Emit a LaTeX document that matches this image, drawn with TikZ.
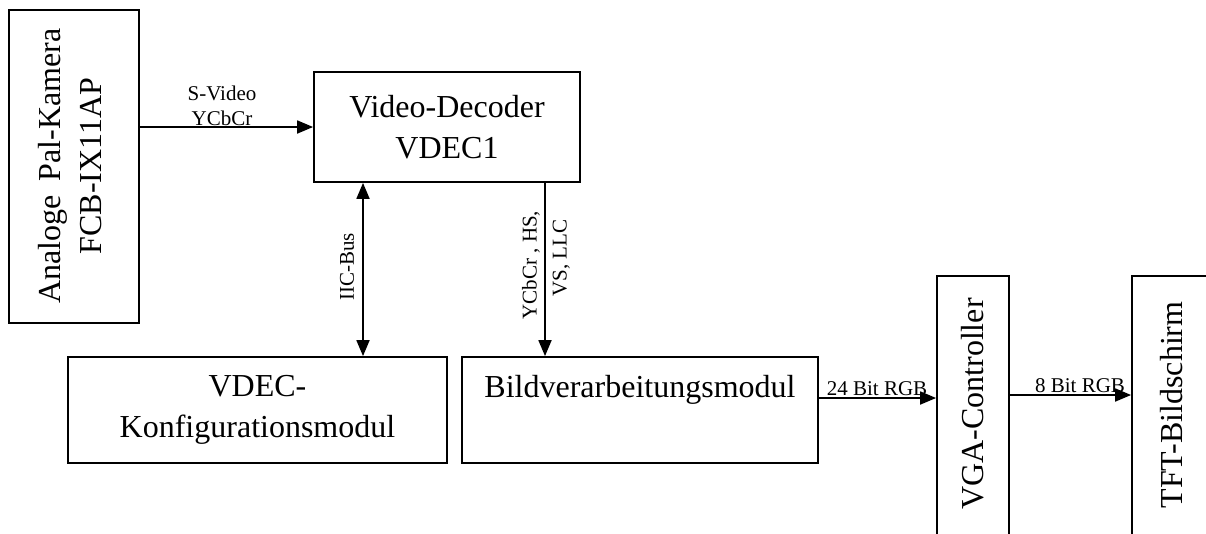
\documentclass[tikz,border=0pt]{standalone}
\usepackage{fontspec}
\setmainfont{Liberation Serif}
\usetikzlibrary{arrows.meta}
\begin{document}
\begin{tikzpicture}[x=1pt,y=-1pt,
  blk/.style={draw, line width=1.8pt, inner sep=0pt},
  big/.style={font=\fontsize{32}{41}\selectfont, align=center, inner sep=0pt},
  small/.style={font=\fontsize{21}{25}\selectfont, align=center, inner sep=0pt},
  arr/.style={line width=1.8pt, -{Triangle[length=16pt,width=13pt]}},
  arrboth/.style={line width=1.8pt, {Triangle[length=16pt,width=13pt]}-{Triangle[length=16pt,width=13pt]}},
]
\useasboundingbox (0,0) rectangle (1206,533);
\clip (0,0) rectangle (1206,533);

% blocks
\node[blk, minimum width=130pt, minimum height=313pt] (cam) at (74,166.5) {};
\node[big, rotate=90] (camtxt) at (70,166)
  {Analoge\hspace{6pt} Pal-Kamera\\FCB-IX11AP};
\node[blk, big, minimum width=266pt, minimum height=110pt] (dec) at (447,127)
  {Video-Decoder\\VDEC1};
\node[blk, big, minimum width=379pt, minimum height=106pt] (konf) at (257.5,410)
  {VDEC-\\Konfigurationsmodul};
\node[blk, minimum width=356pt, minimum height=106pt] (bild) at (640,410) {};
\node[big, anchor=base] (bildtxt) at (640,397) {Bildverarbeitungsmodul};
\node[blk, minimum width=72pt, minimum height=290pt] (vga) at (973,421) {};
\node[big, rotate=90] (vgatxt) at (973,404) {VGA-Controller};
\node[blk, minimum width=80pt, minimum height=290pt] (tft) at (1172,421) {};
\node[big, rotate=90] (tfttxt) at (1172,405) {TFT-Bildschirm};

% bus positions
\coordinate (iic) at (363,0);
\coordinate (ycc) at (545,0);
\coordinate (r24) at (0,398);
\coordinate (r8) at (0,395);

% connectors
\draw[arr] (cam.east |- dec.west) -- (dec.west);
\draw[arrboth] (iic |- dec.south) -- (iic |- konf.north);
\draw[arr] (ycc |- dec.south) -- (ycc |- bild.north);
\draw[arr] (bild.east |- r24) -- (vga.west |- r24);
\draw[arr] (vga.east |- r8) -- (tft.west |- r8);

% connector labels
\node[small, anchor=south] (lsv) at (222,125.5) {S-Video\\YCbCr};
\node[small, rotate=90] (liic) at (347,267) {IIC-Bus};
\node[small, rotate=90, font=\fontsize{21}{30}\selectfont] (lycc) at (546,265)
  {YCbCr , HS,\\\hspace*{14pt}VS, LLC};
\node[small, anchor=base] (l24) at (877,395) {24 Bit RGB};
\node[small, anchor=base] (l8) at (1080,392) {8 Bit RGB};
\end{tikzpicture}
\end{document}
